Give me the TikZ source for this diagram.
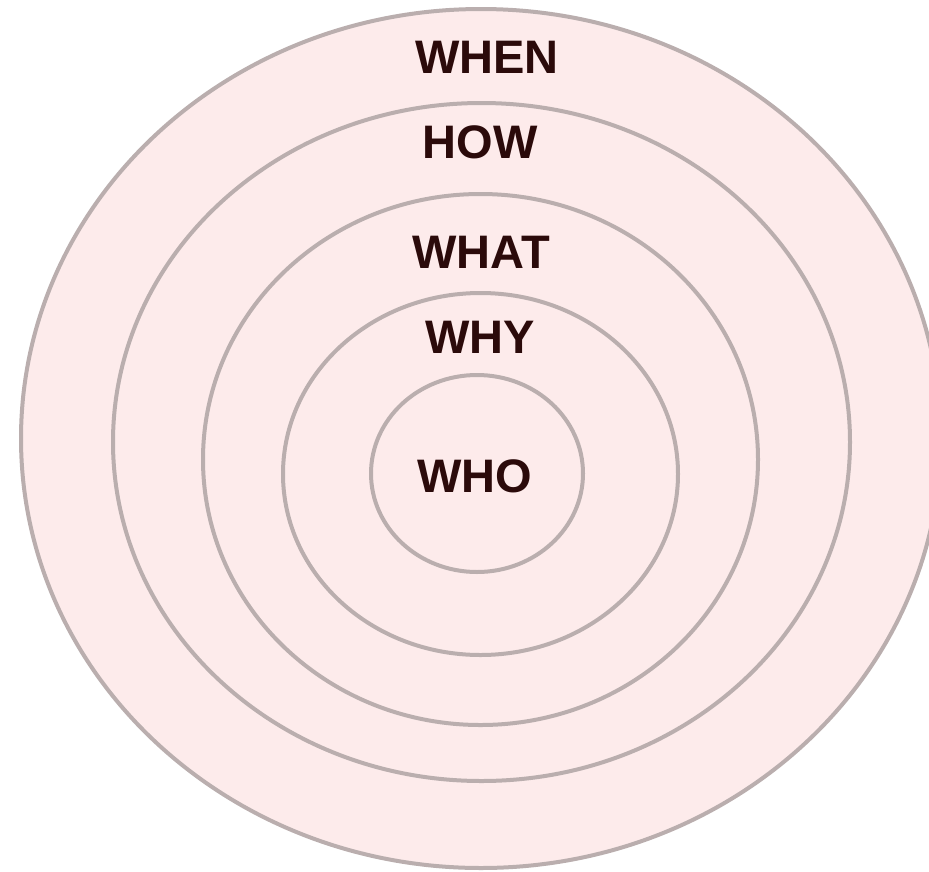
\documentclass[tikz,border=0pt]{standalone}
\usepackage{fontspec}
\setmainfont{Liberation Sans}
\definecolor{ringfill}{HTML}{FDEBEB}
\definecolor{ringline}{HTML}{BAAEAE}
\definecolor{txt}{HTML}{2B0A0A}
\begin{document}
\begin{tikzpicture}[x=1pt,y=-1pt,
  ring/.style={draw=ringline,fill=ringfill,line width=4pt},
  lbl/.style={anchor=base,inner sep=0pt,text=txt,font=\fontsize{47}{47}\selectfont\bfseries}]
\useasboundingbox (0,0) rectangle (929,871);
\clip (0,0) rectangle (929,871);
\draw[ring] (481,438.5) ellipse [x radius=460, y radius=429.5];
\draw[ring] (481.5,442) ellipse [x radius=368.5, y radius=339];
\draw[ring] (480.5,459.5) ellipse [x radius=277.5, y radius=265.5];
\draw[ring] (480.5,474) ellipse [x radius=197.5, y radius=181];
\draw[ring] (477,473.5) ellipse [x radius=106, y radius=98.5];
\node[lbl] (when) at (487,73) {WHEN};
\node[lbl] (how) at (480,158) {HOW};
\node[lbl] (what) at (481,268) {WHAT};
\node[lbl] (why) at (480,353) {WHY};
\node[lbl] (who) at (475,492) {WHO};
\end{tikzpicture}
\end{document}
